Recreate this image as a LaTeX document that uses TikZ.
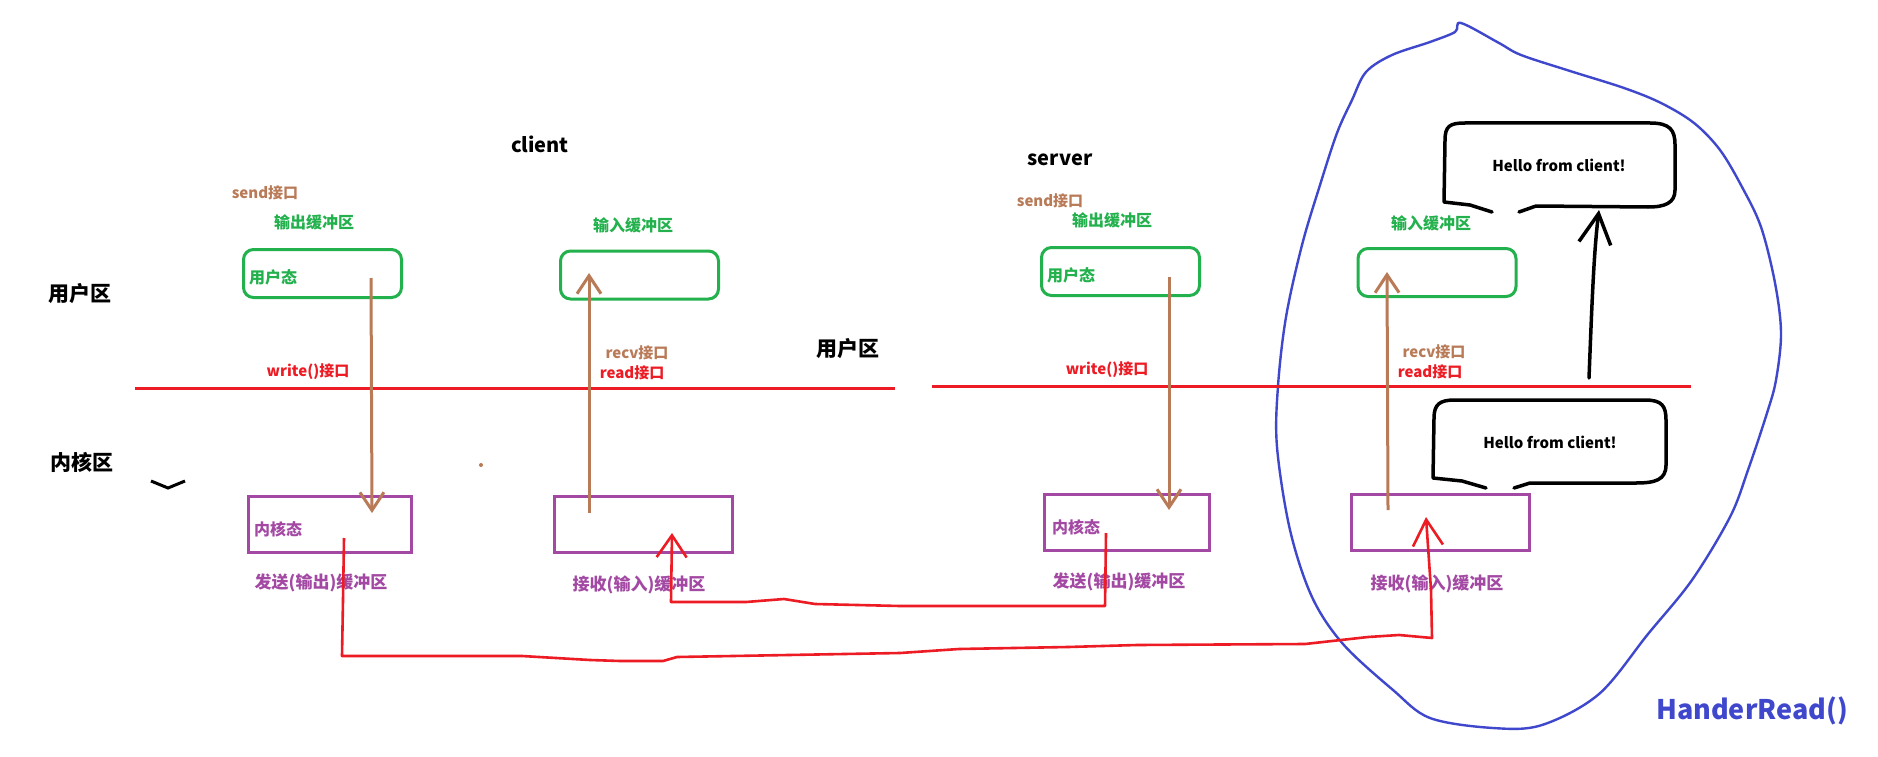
\documentclass[tikz,border=0pt]{standalone}
\usepackage{fontspec}
\setmainfont{Noto Sans CJK SC}
\usetikzlibrary{arrows.meta}
\definecolor{pgreen}{HTML}{22B14C}
\definecolor{pbrown}{HTML}{B97A57}
\definecolor{pred}{HTML}{ED1C24}
\definecolor{ppurple}{HTML}{A349A4}
\definecolor{pblue}{HTML}{3F48CC}
\begin{document}
\begin{tikzpicture}[x=1pt,y=-1pt,
  fs/.style={inner sep=0pt, font=\bfseries\fontsize{#1}{#1}\selectfont},
  ubox/.style={draw=pgreen, line width=3pt, rounded corners=10pt, minimum width=158pt, minimum height=48pt, inner sep=0pt},
  kbox/.style={draw=ppurple, line width=3pt, minimum height=56pt, inner sep=0pt},
  zline/.style={pred, line width=3pt},
  barrow/.style={pbrown, line width=3pt, -{Straight Barb[length=18pt,width=24pt]}},
  rarrow/.style={pred, line width=2.6pt, line join=round, -{Straight Barb[length=#1,width=30pt]}},
  bubble/.style={black, line width=3.5pt, line join=round, line cap=round}]
\useasboundingbox (0,0) rectangle (1878,757);
\fill[white] (0,0) rectangle (1878,757);

% blue enclosure
\draw[pblue, line width=2.4pt] plot[smooth cycle, tension=0.55] coordinates {
 (1461,23) (1499,43) (1521,55) (1570,71) (1624,88) (1661,103) (1694,123) (1720,150)
 (1742,187) (1761,227) (1775,283) (1781,333) (1776,380) (1767,413) (1748,470)
 (1730,517) (1692,580) (1648,634) (1599,694) (1542,725) (1493,728) (1430,718)
 (1393,690) (1343,644) (1312,597) (1290,530) (1277,447) (1278,386) (1286,317)
 (1302,245) (1320,185) (1337,133) (1352,100) (1366,72) (1392,55) (1430,42) (1455,32)};

% titles
\node[fs=20] (client) at (540,144) {client};
\node[fs=20] (server) at (1060,160) {server};
\node[fs=21] (uz1) at (80,294) {用户区};
\node[fs=21] (uz2) at (848,349) {用户区};
\node[fs=21] (kz) at (82,462) {内核区};
\draw[black, line width=3pt] (151,481) -- (168,488) -- (185,481);
\fill[pbrown] (481,465) circle (2pt);

% user space boxes
\node[ubox] (u1) at (322.5,273.5) {};
\node[ubox] (u2) at (639.5,275) {};
\node[ubox] (u3) at (1120.5,271.5) {};
\node[ubox] (u4) at (1437,272.5) {};
\node[fs=15, pbrown] (send1) at (265,193) {send接口};
\node[fs=16, pgreen] (ob1) at (314,222) {输出缓冲区};
\node[fs=16, pgreen] (ib1) at (633,225) {输入缓冲区};
\node[fs=16, pgreen] (us1) at (273,277) {用户态};
\node[fs=15, pbrown] (send2) at (1050,201) {send接口};
\node[fs=16, pgreen] (ob2) at (1112,220) {输出缓冲区};
\node[fs=16, pgreen] (ib2) at (1431,223) {输入缓冲区};
\node[fs=16, pgreen] (us2) at (1071,275) {用户态};

% boundary lines
\coordinate (l1a) at (135,388); \coordinate (l1b) at (895,388);
\coordinate (l2a) at (932,386); \coordinate (l2b) at (1691,386);
\draw[zline] (l1a) -- (l1b);
\draw[zline] (l2a) -- (l2b);
\node[fs=15, pred] (w1) at (308,372) {write()接口};
\node[fs=15, pbrown] (r1) at (637,353) {recv接口};
\node[fs=15, pred] (rd1) at (632,373) {read接口};
\node[fs=15, pred] (w2) at (1107,370) {write()接口};
\node[fs=15, pbrown] (r2) at (1434,352) {recv接口};
\node[fs=15, pred] (rd2) at (1430,372) {read接口};

% kernel boxes
\node[kbox, minimum width=163pt] (k1) at (330,524) {};
\node[kbox, minimum width=178pt] (k2) at (643.5,524) {};
\node[kbox, minimum width=165pt] (k3) at (1127,522) {};
\node[kbox, minimum width=178pt] (k4) at (1440.5,522) {};
\node[fs=16, ppurple] (ks1) at (278,529) {内核态};
\node[fs=16, ppurple] (ks2) at (1076,527) {内核态};
\node[fs=17, ppurple] (sb1) at (321,583) {发送(输出)缓冲区};
\node[fs=17, ppurple] (rb1) at (639,585) {接收(输入)缓冲区};
\node[fs=17, ppurple] (sb2) at (1119,582) {发送(输出)缓冲区};
\node[fs=17, ppurple] (rb2) at (1437,584) {接收(输入)缓冲区};

% brown arrows
\coordinate (a1s) at (371,278); \coordinate (a1e) at (372,513);
\coordinate (a2s) at (589,513); \coordinate (a2e) at (589,273);
\coordinate (a3s) at (1169,277); \coordinate (a3e) at (1169,510);
\coordinate (a4s) at (1388,510); \coordinate (a4e) at (1387,272);
\draw[barrow] (a1s) -- (a1e);
\draw[barrow] (a2s) -- (a2e);
\draw[barrow] (a3s) -- (a3e);
\draw[barrow] (a4s) -- (a4e);

% red transfer paths
\coordinate (p1s) at (344,538); \coordinate (p1e) at (1426,517);
\draw[rarrow=26pt] (p1s) -- (343,600) -- (342,656) -- (522,656) -- (590,660) -- (620,661)
  -- (663,661) -- (677,657) -- (900,653) -- (959,649) -- (1068,647) -- (1137,645)
  -- (1305,644) -- (1368,637) -- (1399,635) -- (1432,638) -- (1431,590) -- (p1e);
\coordinate (p2s) at (1106,533); \coordinate (p2e) at (672,533);
\draw[rarrow=22pt] (p2s) -- (1105,606) -- (900,606) -- (815,604) -- (784,599)
  -- (746,602) -- (671,602) -- (p2e);

% speech bubbles
\draw[bubble] (1492,212) -- (1470,205) -- (1444,202) -- (1445,140)
  .. controls (1445,126) and (1450,123) .. (1465,123) -- (1650,123)
  .. controls (1670,123) and (1675,130) .. (1675,145) -- (1675,190)
  .. controls (1675,203) and (1665,207) .. (1648,207) -- (1536,206) -- (1519,212);
\node[fs=15] (h1) at (1559,165) {Hello from client!};
\draw[bubble] (1486,488) -- (1462,481) -- (1433,478) -- (1434,418)
  .. controls (1434,404) and (1440,400) .. (1455,400) -- (1645,400)
  .. controls (1662,400) and (1666,406) .. (1666,420) -- (1666,465)
  .. controls (1666,480) and (1655,483) .. (1636,483) -- (1530,483) -- (1514,488);
\node[fs=15] (h2) at (1550,442) {Hello from client!};

% black arrow
\coordinate (bs) at (1589,378); \coordinate (be) at (1599,210);
\draw[black, line width=3.5pt, line cap=round, -{Straight Barb[length=30pt,width=32pt]}]
  (bs) .. controls (1592,300) and (1594,250) .. (be);

\node[fs=27, pblue] (hr) at (1752,711) {HanderRead()};
\end{tikzpicture}
\end{document}
